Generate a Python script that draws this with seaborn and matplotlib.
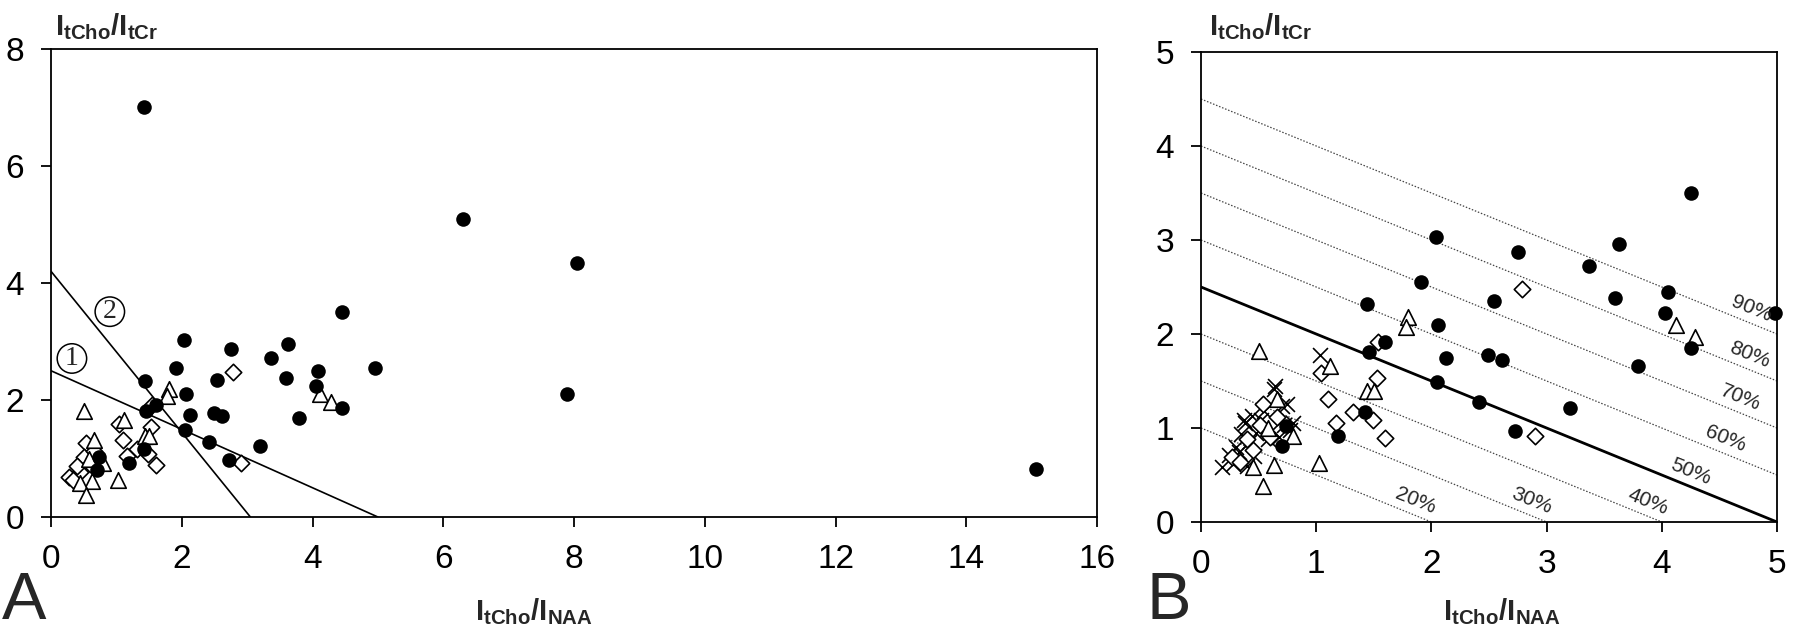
import matplotlib
matplotlib.use("Agg")
import matplotlib.pyplot as plt
import seaborn as sns
import pandas as pd
from matplotlib import font_manager as fm

# ---------------- data ----------------
# filled circles, panel A
circleA_x = [2.04, 2.75, 1.91, 2.54, 1.44, 2.06, 1.60, 1.46, 2.13, 2.49, 2.61, 2.05, 2.41, 2.73,
             1.42, 1.19, 3.20, 3.63, 3.37, 3.59, 4.45, 4.09, 4.05, 4.45, 3.79, 4.95, 0.74, 0.70,
             1.42, 6.30, 8.05, 7.90, 15.07]
circleA_y = [3.03, 2.87, 2.55, 2.35, 2.32, 2.10, 1.91, 1.81, 1.74, 1.78, 1.72, 1.49, 1.28, 0.97,
             1.17, 0.92, 1.21, 2.96, 2.72, 2.38, 3.50, 2.50, 2.24, 1.87, 1.70, 2.55, 1.02, 0.81,
             7.01, 5.10, 4.35, 2.10, 0.82]
# filled circles, panel B
circleB_x = [2.04, 2.75, 1.91, 2.54, 1.44, 2.06, 1.60, 1.46, 2.13, 2.49, 2.61, 2.05, 2.41, 2.73,
             1.42, 1.19, 3.20, 3.63, 3.37, 3.59, 4.25, 4.05, 4.03, 4.25, 3.79, 4.98, 0.74, 0.70]
circleB_y = [3.03, 2.87, 2.55, 2.35, 2.32, 2.10, 1.91, 1.81, 1.74, 1.78, 1.72, 1.49, 1.28, 0.97,
             1.17, 0.92, 1.21, 2.96, 2.72, 2.38, 3.50, 2.45, 2.22, 1.85, 1.66, 2.22, 1.02, 0.81]

diamond_x = [2.79, 1.54, 1.04, 1.53, 1.10, 1.32, 1.49, 1.17, 1.60, 2.90, 0.54, 0.51, 0.45,
             0.27, 0.34, 0.60, 0.40, 0.66]
diamond_y = [2.48, 1.91, 1.59, 1.53, 1.31, 1.17, 1.08, 1.05, 0.89, 0.92, 1.26, 1.03, 0.77,
             0.69, 0.64, 0.90, 0.88, 1.12]

triangle_x = [1.80, 1.78, 0.50, 1.12, 1.44, 1.50, 1.02, 4.12, 4.29, 0.66, 0.63, 0.45, 0.54,
              0.80, 0.58]
triangle_y = [2.18, 2.07, 1.82, 1.66, 1.39, 1.39, 0.63, 2.10, 1.97, 1.31, 0.61, 0.58, 0.38,
              0.92, 1.00]

cross_x = [1.03, 0.64, 0.75, 0.37, 0.18, 0.24, 0.30, 0.35, 0.38, 0.44, 0.55, 0.63, 0.70,
           0.72, 0.77, 0.42, 0.48, 0.52, 0.28, 0.33, 0.58, 0.62, 0.46, 0.68, 0.80, 0.40]
cross_y = [1.78, 1.45, 1.26, 1.08, 0.59, 0.71, 0.80, 0.94, 1.05, 1.13, 1.18, 1.41, 1.23,
           1.03, 0.98, 0.85, 0.95, 1.08, 0.62, 0.75, 0.88, 0.98, 0.70, 0.90, 1.05, 0.60]

line1_x = [0.0, 5.0]
line1_y = [2.5, 0.0]
line2_x = [0.0, 3.05]
line2_y = [4.2, 0.0]

pct_intercepts = [1.0, 1.5, 2.0, 3.0, 3.5, 4.0, 4.5]
pct_labels = ["20%", "30%", "40%", "50%", "60%", "70%", "80%", "90%"]
pct_label_b = [1.0, 1.5, 2.0, 2.5, 3.0, 3.5, 4.0, 4.5]
pct_label_x = [1.86, 2.87, 3.88, 4.25, 4.55, 4.68, 4.76, 4.78]

xticks_A = [0, 2, 4, 6, 8, 10, 12, 14, 16]
yticks_A = [0, 2, 4, 6, 8]
ticks_B = [0, 1, 2, 3, 4, 5]

# ---------------- style ----------------
sns.set_theme(style="white")
names = {f.name for f in fm.fontManager.ttflist}
narrow = "Liberation Sans Narrow" if "Liberation Sans Narrow" in names else "Liberation Sans"
plt.rcParams["font.family"] = [narrow, "DejaVu Sans"]
plt.rcParams["mathtext.fontset"] = "custom"
plt.rcParams["mathtext.bf"] = "Liberation Sans:bold"
plt.rcParams["mathtext.rm"] = "Liberation Sans:bold"

fig = plt.figure(figsize=(18, 6.34), dpi=100)
axA = fig.add_axes([51 / 1800, 1 - 517 / 634, 1046 / 1800, 468 / 634])
axB = fig.add_axes([1201 / 1800, 1 - 522 / 634, 576 / 1800, 470 / 634])

dfCA = pd.DataFrame({"x": circleA_x, "y": circleA_y})
dfCB = pd.DataFrame({"x": circleB_x, "y": circleB_y})
dfD = pd.DataFrame({"x": diamond_x, "y": diamond_y})
dfT = pd.DataFrame({"x": triangle_x, "y": triangle_y})
dfX = pd.DataFrame({"x": cross_x, "y": cross_y})


def draw_points(ax, dfC, with_cross):
    if with_cross:
        sns.scatterplot(data=dfX, x="x", y="y", ax=ax, marker="x", s=115, color="black",
                        linewidth=1.2, zorder=3)
    sns.scatterplot(data=dfD, x="x", y="y", ax=ax, marker="D", s=70, facecolor="white",
                    edgecolor="black", linewidth=1.2, zorder=4)
    sns.scatterplot(data=dfT, x="x", y="y", ax=ax, marker="^", s=125, facecolor="white",
                    edgecolor="black", linewidth=1.2, zorder=4)
    sns.scatterplot(data=dfC, x="x", y="y", ax=ax, marker="o", s=110, color="black",
                    edgecolor="black", linewidth=0, zorder=5, clip_on=False)


# ---------- panel A ----------
axA.plot(line1_x, line1_y, color="black", lw=1.2, zorder=2)
axA.plot(line2_x, line2_y, color="black", lw=1.2, zorder=2)
draw_points(axA, dfCA, False)
axA.set_xlim(0, 16)
axA.set_ylim(0, 8)
axA.set_xticks(xticks_A)
axA.set_yticks(yticks_A)
for lab, (cx, cy) in zip(["1", "2"], [(0.32, 2.71), (0.90, 3.51)]):
    axA.text(cx, cy, lab, fontsize=20, family="Liberation Serif", ha="center", va="center",
             bbox=dict(boxstyle="circle,pad=0.08", fc="white", ec="black", lw=1.1))

# ---------- panel B ----------
for b in pct_intercepts:
    axB.plot([0, 5], [b, b - 2.5], color="#444444", lw=0.9, ls=(0, (1.2, 1.4)), zorder=1)
axB.plot(line1_x, line1_y, color="black", lw=2.0, zorder=2)
draw_points(axB, dfCB, True)
axB.set_xlim(0, 5)
axB.set_ylim(0, 5)
axB.set_xticks(ticks_B)
axB.set_yticks(ticks_B)

for lab, b, xc in zip(pct_labels, pct_label_b, pct_label_x):
    axB.text(xc, b - 0.5 * xc + 0.16, lab, fontsize=15, rotation=-22, ha="center",
             va="center", family="Liberation Sans", zorder=6)

for ax in (axA, axB):
    ax.set_xlabel("")
    ax.set_ylabel("")
    for sp in ax.spines.values():
        sp.set_visible(True)
        sp.set_color("black")
        sp.set_linewidth(1.3)
    ax.tick_params(axis="both", which="major", direction="out", length=7.5, width=1.3,
                   color="black", labelsize=24, labelcolor="black", pad=12,
                   bottom=True, left=True)
    ax.set_facecolor("white")

ylab = r"$\mathbf{I}_{\mathbf{tCho}}\mathbf{/I}_{\mathbf{tCr}}$"
xlab = r"$\mathbf{I}_{\mathbf{tCho}}\mathbf{/I}_{\mathbf{NAA}}$"
fig.text(55 / 1800, 1 - 27 / 634, ylab, fontsize=21, ha="left", va="center")
fig.text(1209 / 1800, 1 - 27 / 634, ylab, fontsize=21, ha="left", va="center")
fig.text(534 / 1800, 1 - 612 / 634, xlab, fontsize=21, ha="center", va="center")
fig.text(1502 / 1800, 1 - 612 / 634, xlab, fontsize=21, ha="center", va="center")
fig.text(2 / 1800, 1 / 634, "A", fontsize=48, ha="left", va="bottom")
fig.text(1146 / 1800, 1 / 634, "B", fontsize=48, ha="left", va="bottom")

fig.savefig("out.png", dpi=100, facecolor="white")
